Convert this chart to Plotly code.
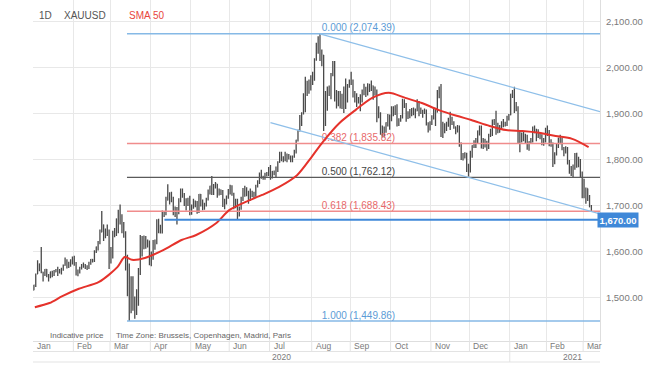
import pandas as pd
import plotly.graph_objects as go

# ---------------- data ----------------
HOLIDAYS = ["2020-01-01", "2020-12-25", "2021-01-01"]
DATES = [d for d in pd.bdate_range("2020-01-02", "2021-03-05")
         if d.strftime("%Y-%m-%d") not in HOLIDAYS]

OPEN = [
    1517,1528,1552,1566,1574,1556,1552,1562,1548,1545,1557,1552,1557,1560,1558,1558,1563,1571,1582,1567,1576,1575,
    1589,1577,1552,1556,1566,1570,1572,1568,1566,1576,1584,1581,1601,1611,1620,1643,1659,1634,1641,1643,
    1585,1588,1640,1636,1672,1674,1680,1649,1636,1576,1530,1515,1526,1477,1470,1498,1553,1612,1611,1630,1618,1622,
    1577,1591,1613,1620,1663,1648,1646,1683,1683,1713,1727,1716,1716,1683,1694,1685,1713,1730,1726,1713,1707,1713,
    1687,1700,1702,1704,1686,1725,1702,1697,1702,1716,1730,1743,1732,1745,1748,1727,1735,1729,1710,1708,1718,
    1730,1740,1727,1700,1713,1685,1697,1715,1737,1728,1730,1725,1726,1727,1722,1743,1754,1769,1762,1761,1771,1772,
    1781,1770,1775,1774,1783,1795,1809,1803,1799,1802,1810,1808,1797,1808,1818,1843,1865,1888,1902,1941,1958,1970,1958,
    1975,1977,2019,2038,2062,2035,2028,1911,1914,1953,1944,1985,2000,1929,1947,1940,1928,1930,1953,1928,1964,
    1968,1970,1944,1931,1934,1932,1931,1948,1954,1946,1957,1955,1961,1944,1950,1912,1900,1863,1868,1862,1881,1897,
    1887,1906,1900,1913,1877,1888,1894,1930,1922,1891,1894,1908,1900,1905,1907,1925,1905,1902,1902,1908,1878,1868,
    1879,1895,1909,1904,1949,1951,1862,1877,1866,1877,1889,1888,1880,1872,1861,1872,1837,1806,1811,1814,1788,
    1776,1815,1831,1841,1839,1863,1871,1838,1836,1839,1828,1855,1854,1882,1881,1872,1860,1870,1877,1876,1877,1893,
    1898,1943,1950,1918,1913,1849,1844,1856,1845,1851,1828,1840,1840,1871,1866,1856,1856,1850,1844,1844,
    1863,1860,1834,1835,1794,1814,1831,1838,1842,1827,1824,1818,1794,1775,1774,1784,1808,1805,1797,1770,
    1734,1723,1738,1715,1698,
]
HIGH = [
    1529,1553,1582,1575,1611,1557,1563,1563,1552,1557,1559,1561,1563,1568,1563,1566,1573,1588,1584,1579,1584,1590,
    1592,1578,1562,1568,1574,1577,1574,1571,1579,1585,1585,1604,1612,1624,1649,1689,1660,1651,1660,1649,
    1611,1646,1652,1673,1692,1703,1682,1665,1645,1594,1575,1547,1547,1503,1519,1565,1637,1635,1636,1635,1627,1625,
    1601,1626,1627,1671,1672,1659,1690,1689,1720,1747,1730,1731,1720,1699,1698,1717,1738,1738,1728,1717,1718,1722,
    1703,1716,1712,1711,1726,1726,1714,1707,1718,1736,1744,1765,1748,1752,1748,1738,1736,1735,1716,1723,1737,
    1746,1745,1729,1716,1716,1699,1720,1739,1744,1741,1733,1738,1733,1731,1746,1756,1773,1779,1766,1772,1774,1785,
    1789,1776,1777,1786,1797,1818,1818,1808,1818,1814,1813,1810,1810,1822,1844,1866,1898,1904,1945,1981,1972,1975,1984,
    1992,2021,2055,2069,2074.4,2040,2028,1950,1960,1962,1989,2015,2015,1952,1950,1950,1944,1960,1977,1965,1975,
    1992,1975,1950,1945,1937,1943,1953,1966,1959,1967,1966,1973,1962,1960,1953,1917,1904,1875,1873,1882,1900,1899,
    1917,1917,1919,1921,1891,1898,1933,1932,1924,1906,1911,1913,1914,1912,1932,1928,1914,1909,1912,1910,1882,1884,
    1897,1911,1911,1952,1960,1965,1883,1880,1883,1892,1905,1894,1884,1873,1876,1875,1838,1815,1817,1816,1792,
    1820,1832,1843,1848,1864,1875,1875,1848,1846,1842,1857,1868,1888,1889,1907,1881,1876,1884,1889,1883,1896,1900,
    1944,1952,1959,1926,1917,1865,1860,1863,1857,1855,1841,1848,1873,1875,1868,1867,1860,1856,1848,1870,
    1875,1865,1845,1838,1817,1837,1849,1855,1848,1828,1830,1828,1800,1787,1790,1815,1816,1807,1802,1775,
    1759,1740,1738,1724,1702,
]
LOW = [
    1517,1524,1552,1558,1554,1536,1548,1545,1536,1543,1545,1548,1556,1548,1553,1551,1559,1570,1564,1565,1568,1573,
    1570,1549,1547,1553,1562,1566,1563,1561,1563,1572,1577,1578,1598,1603,1617,1643,1624,1630,1635,1563,
    1575,1586,1632,1635,1641,1660,1641,1631,1560,1504,1450,1467,1472,1455,1463,1483,1550,1590,1606,1607,1610,1571,
    1569,1583,1605,1617,1641,1640,1640,1676,1680,1712,1703,1708,1680,1676,1660,1682,1708,1718,1700,1690,1700,1680,
    1681,1694,1697,1683,1685,1699,1691,1692,1699,1712,1725,1724,1724,1738,1718,1723,1724,1698,1693,1703,1716,
    1725,1722,1693,1695,1671,1677,1692,1711,1720,1721,1705,1711,1719,1717,1720,1740,1748,1759,1757,1757,1764,1765,
    1757,1760,1767,1763,1774,1794,1797,1795,1797,1795,1801,1795,1795,1805,1814,1840,1862,1874,1899,1904,1939,1944,1951,
    1963,1972,2016,2031,2015,2004,1863,1874,1907,1939,1932,1982,1927,1912,1917,1912,1911,1902,1911,1925,1957,
    1963,1936,1925,1915,1923,1906,1925,1941,1937,1940,1948,1950,1931,1940,1882,1891,1855,1849,1849,1859,1873,1866,
    1884,1895,1898,1873,1874,1883,1890,1913,1883,1889,1891,1895,1897,1891,1906,1895,1900,1892,1900,1875,1860,1864,
    1876,1888,1874,1903,1934,1850,1848,1858,1863,1872,1865,1876,1868,1856,1860,1829,1800,1799,1803,1774,1764,
    1773,1805,1826,1826,1835,1853,1825,1824,1827,1820,1824,1850,1852,1876,1855,1858,1860,1867,1871,1873,1874,1886,
    1897,1935,1902,1906,1836,1817,1838,1841,1835,1822,1820,1836,1838,1858,1841,1848,1845,1832,1831,1838,
    1852,1830,1829,1785,1791,1810,1826,1834,1821,1808,1814,1790,1770,1765,1761,1779,1783,1784,1763,1717,
    1717,1705,1711,1697,1688,
]
CLOSE = [
    1528,1552,1566,1574,1556,1552,1562,1548,1545,1557,1552,1557,1560,1558,1558,1563,1571,1582,1567,1576,1575,1589,
    1577,1552,1556,1566,1570,1572,1568,1566,1576,1584,1581,1601,1611,1620,1643,1659,1634,1641,1643,1585,
    1588,1640,1636,1672,1674,1680,1649,1636,1576,1530,1515,1526,1477,1470,1498,1553,1612,1611,1630,1618,1622,1577,
    1591,1613,1620,1663,1648,1646,1683,1683,1713,1727,1716,1716,1683,1694,1685,1713,1730,1726,1713,1707,1713,1687,
    1700,1702,1704,1686,1725,1702,1697,1702,1716,1730,1743,1732,1745,1748,1727,1735,1729,1710,1708,1718,1730,
    1740,1727,1700,1713,1685,1697,1715,1737,1728,1730,1725,1726,1727,1722,1743,1754,1769,1762,1761,1771,1772,1781,
    1770,1775,1774,1783,1795,1809,1803,1799,1802,1810,1808,1797,1808,1818,1843,1865,1888,1902,1941,1958,1970,1958,1975,
    1977,2019,2038,2062,2035,2028,1911,1914,1953,1944,1985,2000,1929,1947,1940,1928,1930,1953,1928,1964,1968,
    1970,1944,1931,1934,1932,1931,1948,1954,1946,1957,1955,1961,1944,1950,1912,1900,1863,1868,1862,1881,1897,1887,
    1906,1900,1913,1877,1888,1894,1930,1922,1891,1894,1908,1900,1905,1907,1925,1905,1902,1902,1908,1878,1868,1879,
    1895,1909,1904,1949,1951,1862,1877,1866,1877,1889,1888,1880,1872,1861,1872,1837,1806,1811,1814,1788,1776,
    1815,1831,1841,1839,1863,1871,1838,1836,1839,1828,1855,1854,1882,1881,1872,1860,1870,1877,1876,1877,1893,1898,
    1943,1950,1918,1913,1849,1844,1856,1845,1851,1828,1840,1840,1871,1866,1856,1856,1850,1844,1844,1863,
    1860,1834,1835,1794,1814,1831,1838,1842,1827,1824,1818,1794,1775,1774,1784,1808,1805,1797,1770,1734,
    1723,1738,1715,1698,1700,
]
assert len(OPEN) == len(HIGH) == len(LOW) == len(CLOSE) == len(DATES), (
    len(OPEN), len(HIGH), len(LOW), len(CLOSE), len(DATES))

SMA_DATES = ["2020-01-03","2020-01-15","2020-01-24","2020-02-06","2020-02-21","2020-03-06",
             "2020-03-12","2020-03-18","2020-03-27","2020-04-10","2020-04-24","2020-05-06",
             "2020-05-21","2020-06-01","2020-06-12","2020-06-25","2020-07-08","2020-07-22",
             "2020-08-03","2020-08-11","2020-08-24","2020-09-04","2020-09-17","2020-09-30",
             "2020-10-13","2020-10-26","2020-11-06","2020-11-20","2020-12-02","2020-12-16",
             "2020-12-30","2021-01-13","2021-01-26","2021-02-08","2021-02-19","2021-03-04"]
SMA_VALUES = [1480,1489,1504,1520,1535,1567,1589,1583,1587,1604,1626,1637,
              1663,1691,1709,1724,1741,1767,1807,1839,1880,1909,1935,1946,
              1935,1924,1909,1896,1887,1874,1865,1863,1859,1852,1846,1828]

FIB_RATIOS = [0.0, 0.382, 0.5, 0.618, 1.0]
FIB_PRICES = [2074.39, 1835.82, 1762.12, 1688.43, 1449.86]
FIB_START = "2020-03-13 06:00"
FIB_LABEL_AT = "2020-08-10 12:00"

CHANNEL_UP_X = ["2020-08-07 12:00", "2021-03-12 04:48"]
CHANNEL_UP_Y = [2074.39, 1905]
CHANNEL_LO_X = ["2020-07-01 12:00", "2021-03-12 04:48"]
CHANNEL_LO_Y = [1881, 1683]

LEVEL_PRICE = 1670.00
LEVEL_START = "2020-04-10 16:00"

MONTH_LABELS = ["Jan","Feb","Mar","Apr","May","Jun","Jul","Aug","Sep","Oct","Nov","Dec","Jan","Feb","Mar"]
YEAR_LABELS = ["2020", "2021"]
Y_TICKS = [1500, 1600, 1700, 1800, 1900, 2000, 2100]

X_START = "2020-01-02"
X_END = "2021-03-12 04:48"
Y_RANGE = [1406.5, 2147.8]

# ---------------- styling ----------------
FONT = "Arial, Liberation Sans, Helvetica, sans-serif"
BAR_COLOR = "#4a4a4a"
GRID = "#e8e8e8"
FIB_COLORS = ["#86b9e6", "#f08c8c", "#5a5a5a", "#f08c8c", "#86b9e6"]
FIB_TEXT_COLORS = ["#5c9bd6", "#e8696b", "#444444", "#e8696b", "#5c9bd6"]

# month starts = first trading day of each month (from the category list)
month_starts = []
seen = set()
for d in DATES:
    key = (d.year, d.month)
    if key not in seen:
        seen.add(key)
        month_starts.append(d.strftime("%Y-%m-%d"))

fig = go.Figure()

# fib levels
for r, p, c in zip(FIB_RATIOS, FIB_PRICES, FIB_COLORS):
    fig.add_trace(go.Scatter(x=[FIB_START, X_END], y=[p, p], mode="lines",
                             line=dict(color=c, width=1.5 if r != 0.5 else 1.3),
                             hoverinfo="skip", showlegend=False))
fig.add_trace(go.Scatter(
    x=[FIB_LABEL_AT] * len(FIB_RATIOS), y=FIB_PRICES, mode="text",
    text=[f"{r:.3f} ({p:,.2f})" for r, p in zip(FIB_RATIOS, FIB_PRICES)],
    textposition="top right",
    textfont=dict(family=FONT, size=10, color=FIB_TEXT_COLORS),
    hoverinfo="skip", showlegend=False))

# channel
for xs, ys in [(CHANNEL_UP_X, CHANNEL_UP_Y), (CHANNEL_LO_X, CHANNEL_LO_Y)]:
    fig.add_trace(go.Scatter(x=xs, y=ys, mode="lines",
                             line=dict(color="#8ebfe9", width=1.3),
                             hoverinfo="skip", showlegend=False))

# price bars
bar_x = [d + pd.Timedelta(hours=12) for d in DATES]
fig.add_trace(go.Ohlc(
    x=bar_x, open=OPEN, high=HIGH, low=LOW, close=CLOSE,
    increasing=dict(line=dict(color=BAR_COLOR, width=1.3)),
    decreasing=dict(line=dict(color=BAR_COLOR, width=1.3)),
    tickwidth=0.35, hoverinfo="skip", showlegend=False))

# SMA 50
fig.add_trace(go.Scatter(x=SMA_DATES, y=SMA_VALUES, mode="lines",
                         line=dict(color="#e5322b", width=2, shape="spline", smoothing=0.8),
                         hoverinfo="skip", showlegend=False))

# horizontal level
fig.add_trace(go.Scatter(x=[LEVEL_START, X_END], y=[LEVEL_PRICE, LEVEL_PRICE], mode="lines",
                         line=dict(color="#3f88d8", width=2),
                         hoverinfo="skip", showlegend=False))

annotations = []
# month labels
for ms, lab in zip(month_starts, MONTH_LABELS):
    annotations.append(dict(x=ms, xref="x", y=0, yref="paper", text=lab, showarrow=False,
                            xanchor="left", yanchor="middle", xshift=2, yshift=-4.5,
                            font=dict(family=FONT, size=8.5, color="#7a7a7a")))
# year labels
annotations.append(dict(x=month_starts[6], xref="x", y=0, yref="paper", text=YEAR_LABELS[0],
                        showarrow=False, xanchor="left", yanchor="middle", yshift=-15.5,
                        font=dict(family=FONT, size=8.5, color="#7a7a7a")))
annotations.append(dict(x=month_starts[14], xref="x", y=0, yref="paper", text=YEAR_LABELS[1],
                        showarrow=False, xanchor="right", yanchor="middle", yshift=-15.5, xshift=1,
                        font=dict(family=FONT, size=8.5, color="#7a7a7a")))
# header
PW, PH = 567.0, 341.0
def px(xp):
    return (xp - 33) / PW
def py(yp):
    return 1 - yp / PH
annotations += [
    dict(x=px(37), y=py(16), xref="paper", yref="paper", text="1D", showarrow=False,
         xanchor="left", yanchor="middle", font=dict(family=FONT, size=10, color="#555")),
    dict(x=px(62), y=py(16), xref="paper", yref="paper", text="XAUUSD", showarrow=False,
         xanchor="left", yanchor="middle", font=dict(family=FONT, size=10, color="#555")),
    dict(x=px(127), y=py(16), xref="paper", yref="paper", text="SMA 50", showarrow=False,
         xanchor="left", yanchor="middle", font=dict(family=FONT, size=10, color="#e8453c")),
    dict(x=px(48), y=py(335), xref="paper", yref="paper", text="Indicative price", showarrow=False,
         xanchor="left", yanchor="middle", font=dict(family=FONT, size=8, color="#666")),
    dict(x=px(114), y=py(335), xref="paper", yref="paper",
         text="Time Zone: Brussels, Copenhagen, Madrid, Paris", showarrow=False,
         xanchor="left", yanchor="middle", font=dict(family=FONT, size=8, color="#666")),
    dict(x=1, xref="paper", y=LEVEL_PRICE, yref="y", text="<b>1,670.00</b>", showarrow=False,
         xanchor="left", yanchor="middle", xshift=-3, bgcolor="#3f88d8", borderpad=1.5,
         font=dict(family=FONT, size=9.5, color="white")),
]

# axis rows separators
shapes = []
row1 = -(351.5 - 341) / PH
row2 = -(362 - 341) / PH
for ms in month_starts[1:]:
    shapes.append(dict(type="line", xref="x", yref="paper", x0=ms, x1=ms, y0=0, y1=row1,
                       line=dict(color="#e3e3e3", width=1)))
shapes.append(dict(type="line", xref="x", yref="paper", x0=month_starts[12], x1=month_starts[12],
                   y0=row1, y1=row2, line=dict(color="#e3e3e3", width=1)))
for yy in (row1, row2):
    shapes.append(dict(type="line", xref="paper", yref="paper", x0=0, x1=1, y0=yy, y1=yy,
                       line=dict(color="#e3e3e3", width=1)))

fig.update_layout(
    width=660, height=366,
    margin=dict(l=33, r=60, t=0, b=25),
    paper_bgcolor="white", plot_bgcolor="white",
    showlegend=False, hovermode=False,
    font=dict(family=FONT),
    annotations=annotations, shapes=shapes,
    xaxis=dict(type="date", range=[X_START, X_END],
               rangebreaks=[dict(bounds=["sat", "mon"]), dict(values=HOLIDAYS)],
               tickvals=month_starts, showticklabels=False, ticks="",
               showgrid=True, gridcolor=GRID, gridwidth=1, zeroline=False,
               showline=True, linecolor="#dedede", linewidth=1,
               rangeslider=dict(visible=False)),
    yaxis=dict(side="right", range=Y_RANGE, tickvals=Y_TICKS, tickformat=",.2f",
               showgrid=True, gridcolor=GRID, gridwidth=1, zeroline=False,
               showline=True, linecolor="#dedede", linewidth=1, ticks="",
               ticklabelstandoff=3,
               tickfont=dict(family=FONT, size=9.5, color="#7a7a7a")),
)

fig.write_html("out.html",
               config={"displayModeBar": False, "staticPlot": True},
               post_script="document.body.style.margin='0';document.body.style.overflow='hidden';")
